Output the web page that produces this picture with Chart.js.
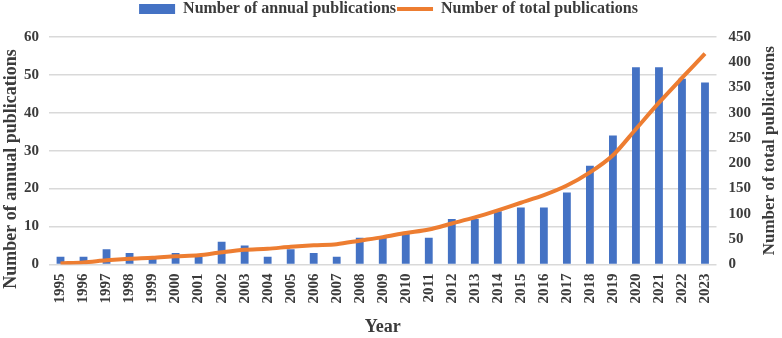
<!DOCTYPE html>
<html lang="en">
<head>
    <meta charset="UTF-8">
    <title>Publications per year</title>
    <script src="https://cdn.jsdelivr.net/npm/chart.js"></script>
    <style>
        html, body { margin: 0; padding: 0; background: #fff; }
        #wrap { width: 782px; height: 338px; }
    </style>
</head>
<body>
    <div id="wrap">
        <canvas id="pubChart"></canvas>
    </div>

    <script>
        // values
        const years = ['1995','1996','1997','1998','1999','2000','2001','2002','2003','2004',
                       '2005','2006','2007','2008','2009','2010','2011','2012','2013','2014',
                       '2015','2016','2017','2018','2019','2020','2021','2022','2023'];
        const annualPubs = [2, 2, 4, 3, 2, 3, 2, 6, 5, 2,
                            4, 3, 2, 7, 7, 8, 7, 12, 12, 14,
                            15, 15, 19, 26, 34, 52, 52, 49, 48];
        const totalPubs = [2, 4, 8, 11, 13, 16, 18, 24, 29, 31,
                           35, 38, 40, 47, 54, 62, 69, 81, 93, 107,
                           122, 137, 156, 182, 216, 268, 320, 369, 417];
        const leftTitle = 'Number of annual publications';
        const rightTitle = 'Number of total publications';

        const serif = '"Liberation Serif", "Times New Roman", serif';
        const textColor = '#3b3b3b';

        // both y titles read bottom-to-top, so draw them ourselves
        const axisTitles = {
            id: 'axisTitles',
            afterDraw(chart) {
                const ctx = chart.ctx;
                const area = chart.chartArea;
                ctx.save();
                ctx.fillStyle = textColor;
                ctx.textAlign = 'center';
                ctx.textBaseline = 'middle';
                ctx.font = 'bold 18px ' + serif;
                ctx.translate(11, chart.height / 2);
                ctx.rotate(-Math.PI / 2);
                ctx.fillText(leftTitle, 0, 0);
                ctx.restore();

                ctx.save();
                ctx.fillStyle = textColor;
                ctx.textAlign = 'center';
                ctx.textBaseline = 'middle';
                ctx.font = 'bold 17px ' + serif;
                ctx.translate(chart.width - 12, (area.top + area.bottom) / 2);
                ctx.rotate(-Math.PI / 2);
                ctx.fillText(rightTitle, 0, 0);
                ctx.restore();
            }
        };

        // a bit more room between legend and plot
        const legendGap = {
            id: 'legendGap',
            beforeInit(chart) {
                const fit = chart.legend.fit;
                chart.legend.fit = function () {
                    fit.call(this);
                    this.height += 10;
                };
            }
        };

        new Chart(document.getElementById('pubChart'), {
            type: 'bar',
            data: {
                labels: years,
                datasets: [{
                    type: 'line',
                    label: 'Number of total publications',
                    data: totalPubs,
                    yAxisID: 'y1',
                    borderColor: '#ED7D31',
                    backgroundColor: '#ED7D31',
                    borderWidth: 4,
                    pointRadius: 0,
                    tension: 0.3,
                    pointStyle: 'line',
                    order: 0
                }, {
                    label: 'Number of annual publications',
                    data: annualPubs,
                    yAxisID: 'y',
                    backgroundColor: '#4472C4',
                    borderWidth: 0,
                    barPercentage: 0.34,
                    categoryPercentage: 1,
                    pointStyle: 'rect',
                    order: 1
                }]
            },
            plugins: [legendGap, axisTitles],
            options: {
                responsive: true,
                maintainAspectRatio: false,
                animation: false,
                layout: { padding: { left: 14, right: 19, top: 0, bottom: 0 } },
                plugins: {
                    tooltip: { enabled: false },
                    legend: {
                        position: 'top',
                        reverse: true,
                        labels: {
                            usePointStyle: true,
                            pointStyleWidth: 36,
                            boxHeight: 10,
                            padding: 1,
                            color: textColor,
                            font: { family: serif, size: 16, weight: 'bold' }
                        }
                    }
                },
                scales: {
                    x: {
                        grid: { display: false, drawTicks: false },
                        border: { display: false },
                        ticks: {
                            minRotation: 90,
                            maxRotation: 90,
                            padding: 9,
                            color: textColor,
                            font: { family: serif, size: 15, weight: 'bold' }
                        },
                        title: {
                            display: true,
                            text: 'Year',
                            color: textColor,
                            padding: { top: 4, bottom: 0 },
                            font: { family: serif, size: 18, weight: 'bold' }
                        }
                    },
                    y: {
                        position: 'left',
                        min: 0,
                        max: 60,
                        ticks: {
                            stepSize: 10,
                            padding: 10,
                            color: textColor,
                            font: { family: serif, size: 15, weight: 'bold' }
                        },
                        grid: { color: '#d9d9d9', lineWidth: 1.5, drawTicks: false },
                        border: { display: false }
                    },
                    y1: {
                        position: 'right',
                        min: 0,
                        max: 450,
                        ticks: {
                            stepSize: 50,
                            padding: 12,
                            color: textColor,
                            font: { family: serif, size: 15, weight: 'bold' }
                        },
                        grid: { display: false, drawTicks: false },
                        border: { display: false }
                    }
                }
            }
        });
    </script>
</body>
</html>
